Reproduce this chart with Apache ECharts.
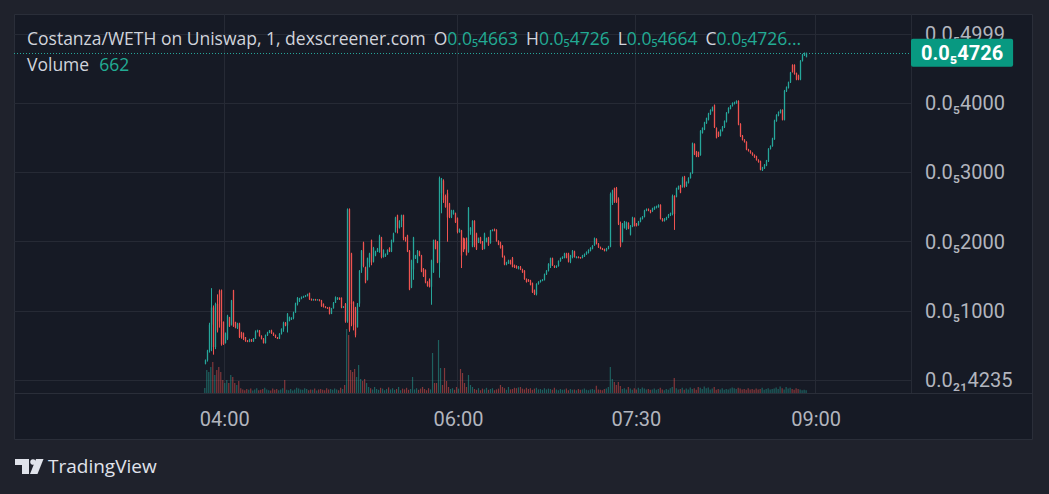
<!DOCTYPE html>
<html><head><meta charset="utf-8">
<script src="https://cdn.jsdelivr.net/npm/echarts@6.0.0/dist/echarts.min.js"></script>
<style>html,body{margin:0;padding:0;background:#1f222c;}#chart{width:1049px;height:494px;}</style>
</head><body><div id="chart"></div>
<script>
// ---- DATA (prices in units of 0.0₅ = 1e-9) ----
const titleText = 'Costanza/WETH on Uniswap, 1, dexscreener.com';
const legendKeys = ['O','H','L','C'];
const legendValues = [4663, 4726, 4664, 4726];
const startTime = '02:15';
const skippedMinutes = ['04:37','05:12','05:48','06:53'];
const categoryCount = 449;
const firstBarTime = '03:50';
const timeTickLabels = ['04:00','06:00','07:30','09:00'];
const priceTicks = [0,1000,2000,3000,4000,5000];
const priceTickLabels = ['0.0₂₁4235','0.0₅1000','0.0₅2000','0.0₅3000','0.0₅4000','0.0₅4999'];
// [open, close, low, high]
const ohlc = [
[240,290,230,300],[290,430,270,440],[430,800,400,830],[800,1050,420,1330],[1050,480,370,1080],[480,1100,450,1120],[1100,720,690,1240],[1290,850,760,1310],[1300,520,500,1310],[840,520,510,850],
[540,680,530,690],[600,930,580,945],[910,780,770,915],[800,1150,790,1160],[1300,780,770,1305],[840,760,750,845],[760,820,740,830],[820,620,610,830],[690,620,600,700],[680,600,580,690],
[620,570,555,625],[570,560,550,580],[560,590,550,600],[590,560,555,595],[560,600,555,610],[600,700,600,720],[700,720,690,730],[720,640,630,725],[640,600,590,650],[600,540,530,610],
[540,650,530,660],[650,690,640,700],[690,720,680,725],[720,680,670,730],[680,650,640,690],[650,620,610,660],[620,600,595,625],[600,670,595,680],[670,740,660,750],[740,830,700,845],
[830,790,780,840],[790,960,690,970],[860,910,850,920],[880,900,870,910],[900,980,880,990],[980,1110,975,1120],[1100,1190,1080,1200],[1150,1180,1130,1190],[1180,1200,1170,1210],[1200,1210,1190,1220],
[1210,1220,1200,1230],[1220,1240,1210,1250],[1260,1170,1160,1265],[1170,1160,1150,1180],[1160,1170,1150,1175],[1170,1160,1150,1175],[1160,1165,1155,1170],[1165,1150,1140,1170],[1150,1070,1060,1160],[1100,1060,1050,1110],
[1060,1050,1040,1070],[1050,1040,1030,1055],[1050,960,950,1060],[960,1040,955,1045],[1040,1120,1035,1130],[1120,1200,1115,1210],[1170,1190,1160,1200],[1190,1170,1160,1195],[1190,1050,1040,1195],[1050,1060,1045,1070],
[1100,850,830,1115],[850,2470,830,2480],[2470,730,700,2480],
[1830,1100,780,1840],[1130,800,720,1140],[1050,650,620,1060],[770,1110,760,1115],[1110,1580,1060,1590],[1580,1870,1550,1880],[1990,1650,1630,2000],[1630,1410,1400,1640],[1450,1760,1440,1770],[1700,1830,1630,1840],
[2020,1700,1660,2030],[1710,1910,1700,1925],[1800,1860,1790,1870],[1860,1900,1850,1910],[1850,2080,1840,2100],[2060,1780,1760,2070],[1780,1880,1770,1890],[1790,1820,1780,1830],[1820,1880,1810,1890],[1910,1860,1850,1920],
[1860,2020,1850,2030],[2000,2120,1990,2130],[2140,2350,2130,2360],[2380,2200,2120,2390],[2200,2300,2190,2310],[2300,2380,2210,2390],[2380,2050,2020,2390],[2060,2020,2000,2070],[2090,1860,1850,2100],[1870,1310,1300,1880],
[1340,1730,1330,1740],[1600,2060,1450,2070],[1760,1800,1750,1810],[1700,1870,1690,1880],[1860,1800,1790,1870],[1800,1570,1560,1810],[1610,1500,1490,1620],[1590,1410,1400,1600],[1420,1360,1350,1430],[1450,1350,1340,1470],
[1350,1730,1090,1740],[1560,2020,1550,2030],[2020,1900,1890,2030],[2000,1700,1690,2010],[1700,2920,1480,2940],[2700,2910,2410,2920],[2880,2600,2560,2900],[2660,2500,2490,2680],[2700,2350,2000,2750],[2550,2360,2340,2560],
[2350,2450,2340,2460],[2400,2450,2390,2460],[2410,2280,2270,2420],[2340,2140,2120,2350],[2140,2180,2130,2190],[2160,1800,1620,2170],[2050,1860,1850,2060],[2000,1900,1890,2050],[2050,1810,1800,2060],[1850,2490,1840,2500],
[2150,2200,2100,2210],[1930,2300,1920,2310],[2300,1950,1920,2310],[2120,1890,1880,2130],[1990,2050,1980,2060],[2060,1980,1970,2070],[2000,1890,1880,2010],[1900,2120,1890,2130],[2000,2050,1990,2060],[2060,1950,1940,2070],
[1980,2160,1970,2170],[2160,2170,2150,2180],[2180,2160,2150,2190],[2170,2010,2000,2180],[2010,1960,1950,2020],
[1990,1910,1900,2000],[1940,1780,1770,1950],[1780,1670,1660,1800],[1670,1700,1660,1710],[1690,1730,1680,1740],[1730,1680,1670,1740],[1770,1640,1630,1780],[1660,1630,1620,1670],[1650,1620,1610,1660],[1610,1640,1600,1650],
[1640,1600,1590,1650],[1600,1560,1550,1610],[1580,1460,1450,1590],[1460,1420,1410,1470],[1450,1430,1420,1460],[1440,1380,1370,1450],[1400,1270,1260,1410],[1300,1240,1230,1310],[1240,1390,1225,1400],[1390,1420,1380,1430],
[1420,1440,1410,1450],[1440,1450,1430,1460],[1450,1530,1440,1540],[1530,1580,1520,1590],[1580,1680,1570,1690],[1650,1760,1620,1770],[1760,1660,1650,1770],[1650,1630,1620,1660],[1630,1650,1620,1660],[1650,1720,1640,1730],
[1720,1760,1710,1770],[1760,1780,1750,1790],[1770,1830,1760,1840],[1830,1770,1760,1840],[1830,1710,1700,1840],[1710,1800,1690,1810],[1780,1870,1760,1880],[1860,1780,1770,1870],[1770,1780,1760,1790],[1780,1770,1760,1790],
[1775,1765,1755,1780],[1770,1800,1760,1810],[1790,1820,1780,1830],[1820,1850,1810,1860],[1840,1880,1830,1890],[1870,1910,1860,1920],[1900,1940,1890,1950],[1950,2050,1940,2060],[2040,1970,1960,2050],[1970,1920,1910,1980],
[1920,1900,1890,1930],[1900,1890,1880,1910],[1890,1870,1860,1900],[1870,1900,1860,1910],[1900,1930,1890,1940],[1930,2690,1920,2710],[2560,2740,2530,2750],[2770,2580,2560,2780],[2770,2570,2560,2790],[2620,2260,2240,2640],
[2270,1940,1920,2290],[2000,2260,1990,2270],[2200,2290,2190,2300],[2180,2280,2170,2290],[2270,2190,2180,2280],[2100,2230,2090,2240],[2220,2350,2210,2360],[2340,2230,2220,2350],[2260,2230,2220,2270],[2240,2290,2230,2300],
[2290,2340,2280,2350],[2330,2360,2320,2370],[2360,2450,2350,2460],[2450,2470,2440,2480],[2470,2450,2440,2480],[2450,2420,2410,2460],
[2440,2480,2430,2490],[2470,2500,2460,2510],[2490,2510,2480,2520],[2500,2530,2490,2540],[2530,2330,2320,2540],[2330,2300,2290,2340],[2300,2330,2290,2340],[2320,2350,2310,2360],[2350,2390,2340,2400],[2380,2410,2370,2420],
[2400,2660,2380,2680],[2660,2400,2170,2670],[2650,2770,2640,2780],[2760,2800,2750,2810],[2810,2710,2700,2820],[2790,2920,2780,2940],[2940,2800,2780,2950],[2800,2860,2790,2870],[2850,2920,2840,2930],[2920,2990,2910,3000],
[2990,3420,2980,3430],[3410,3260,3250,3420],[3300,3230,3220,3310],[3290,3230,3220,3300],[3250,3600,3240,3610],[3570,3640,3560,3650],[3620,3720,3610,3730],[3710,3780,3700,3790],[3760,3850,3750,3860],[3840,3900,3830,3910],
[3890,3940,3880,3950],[3970,3650,3640,3980],[3640,3500,3490,3650],[3580,3520,3510,3590],[3530,3610,3520,3620],[3600,3660,3590,3670],[3650,3740,3640,3750],[3730,3860,3720,3870],[3860,3930,3850,3940],[3920,3960,3910,3970],
[3960,4000,3950,4010],[3990,4010,3980,4020],[4000,4030,3990,4040],[4030,3690,3680,4040],[3700,3520,3510,3710],[3530,3470,3460,3540],[3470,3440,3430,3480],[3440,3330,3320,3450],[3330,3310,3300,3340],[3310,3280,3270,3320],
[3280,3250,3240,3290],[3250,3220,3210,3260],[3230,3180,3170,3240],[3180,3150,3140,3190],[3160,3040,3030,3170],[3030,3070,3020,3080],[3060,3110,3050,3120],[3100,3170,3090,3180],[3160,3340,3150,3350],[3340,3380,3330,3390],
[3380,3490,3370,3500],[3480,3750,3470,3760],[3740,3830,3730,3840],[3820,3870,3810,3880],[3860,3900,3850,3910],[3900,3760,3750,3910],[3760,4180,3750,4190],[4170,4230,4160,4240],[4220,4300,4210,4310],[4300,4440,4290,4450],
[4550,4450,4440,4560],[4550,4420,4410,4560],[4430,4340,4330,4440],[4400,4340,4330,4410],[4340,4610,4330,4620],[4610,4700,4600,4710],[4690,4720,4680,4730],[4663,4726,4663,4726]
];
const volume = [
1250,5750,5250,6500,7750,4500,5750,6500,5250,3250,2500,3250,2500,4500,4000,2500,2000,3000,
1200,900,700,1000,800,1100,600,900,1200,700,800,1000,1300,900,700,600,1100,800,1000,700,900,1200,
3250,
800,700,1000,600,900,1300,1100,900,800,1200,1000,700,900,800,1100,600,900,1000,800,700,1200,900,1000,800,1100,900,700,1300,1000,
2000,16000,14500,
5750,5250,6000,4000,7000,3500,3000,3500,2500,1500,
1200,900,1500,1000,800,1300,1100,700,1000,1400,
900,1200,800,1000,1500,700,1100,900,1300,800,1000,
4000,
900,1200,800,1100,1500,1000,700,1200,900,
10000,2500,2500,13250,6250,2000,6250,3000,1500,
1000,1200,800,1500,1100,
6000,5000,2500,1500,4500,2000,1500,
1000,800,1200,700,1100,900,1300,800,1000,1200,700,900,1100,
2000,1500,1200,800,1500,900,1000,1300,1200,1400,1500,1100,900,1300,1000,1200,800,1100,1300,900,1000,800,1200,900,1100,1000,800,1300,900,700,1000,800,900,1100,700,1000,800,900,700,1000,800,900,1100,800,700,900,1000,800,1800,900,800,700,1000,1100,
1500,6500,3500,2750,2000,2750,1750,1000,1200,900,1500,1100,800,1200,900,1300,1000,1400,1100,900,1000,800,
900,1100,800,1000,1300,900,700,1000,800,1200,1500,
3750,
1200,900,1000,1300,800,1100,900,1400,1000,1200,
800,1500,1300,1000,1600,1200,1400,900,1100,1500,
800,1000,900,1200,800,1000,900,1100,1400,1200,
1000,1300,1100,900,1000,800,1200,900,1000,800,
1100,900,1000,1300,800,1000,1200,900,1000,1100,
1400,1000,1600,1200,900,1500,1100,1300,1000,800,
1200,1000,900,700,800,662
];

// ---- BUILD ----
function toMin(s){const p=s.split(':');return +p[0]*60+ +p[1];}
function fmtTime(m){const h=Math.floor(m/60),mm=m%60;return String(h).padStart(2,'0')+':'+String(mm).padStart(2,'0');}
const times=[];
for(let t=toMin(startTime);times.length<categoryCount;t++){const s=fmtTime(t);if(!skippedMinutes.includes(s))times.push(s);}
const firstIndex=times.indexOf(firstBarTime);
const UP='#26a69a',DOWN='#ef5350';
const isUp=i=>ohlc[i][1]>=ohlc[i][0];
const candleData=ohlc.map((r,i)=>[times[firstIndex+i],r[0],r[1],r[2],r[3]]);
const volData=volume.map((v,i)=>({value:[times[firstIndex+i],v],itemStyle:{color:isUp(i)?'rgba(38,166,154,0.5)':'rgba(239,83,80,0.5)'}}));
const lastClose=ohlc[ohlc.length-1][1];
const fmtPrice=v=>'0.0₅'+Math.round(v);
const isTimeTick=(idx,val)=>timeTickLabels.includes(val);

function renderCandle(params, api){
  const x=api.value(0), o=api.value(1), c=api.value(2), l=api.value(3), h=api.value(4);
  const po=api.coord([x,o]), pc=api.coord([x,c]), pl=api.coord([x,l]), ph=api.coord([x,h]);
  const band=api.size([1,0])[0];
  const bw=Math.max(1, band*0.65);
  const color=c>=o?UP:DOWN;
  const cx=Math.round(po[0])+0.5;
  const top=Math.min(po[1],pc[1]), bot=Math.max(po[1],pc[1]);
  return {type:'group',children:[
    {type:'line',shape:{x1:cx,y1:ph[1],x2:cx,y2:pl[1]},style:{stroke:color,lineWidth:1,opacity:1}},
    {type:'rect',shape:{x:cx-bw/2,y:top,width:bw,height:Math.max(bot-top,1)},style:{fill:color,stroke:null,opacity:1}}
  ]};
}

const GRID_L=14, GRID_R=138;
const FS=17.5;
const chart=echarts.init(document.getElementById('chart'), null, {renderer:'svg'});
const legendText = '{t|'+titleText+'}' + legendKeys.map((k,i)=>'{k|'+k+'}{v|'+fmtPrice(legendValues[i])+'}').join('') + '{v|...}';
chart.setOption({
  animation:false,
  backgroundColor:'#1f222c',
  graphic:[
    {type:'rect',z:-100,shape:{x:14.5,y:14.5,width:1018,height:425},style:{fill:'#161a25',stroke:'#2a2e39',lineWidth:1}},
    {type:'line',z:-50,shape:{x1:14,y1:393.5,x2:1033,y2:393.5},style:{stroke:'#2a2e39',lineWidth:1}},
    {type:'text',z:100,left:27,top:29,style:{text:legendText,rich:{
      t:{fill:'#d1d4dc',fontSize:FS,fontFamily:'Open Sans'},
      k:{fill:'#d1d4dc',fontSize:FS,fontFamily:'Open Sans',padding:[0,0,0,8]},
      v:{fill:'#22ab94',fontSize:FS,fontFamily:'Open Sans'}}}},
    {type:'text',z:100,left:27,top:55,style:{text:'{k|Volume}{v|'+volume[volume.length-1]+'}',rich:{
      k:{fill:'#d1d4dc',fontSize:FS,fontFamily:'Open Sans'},
      v:{fill:'#22ab94',fontSize:FS,fontFamily:'Open Sans',padding:[0,0,0,10]}}}},
    {type:'group',z:100,children:[
      {type:'rect',shape:{x:15,y:459,width:14,height:6},style:{fill:'#e0e3eb'}},
      {type:'rect',shape:{x:22,y:459,width:7,height:15},style:{fill:'#e0e3eb'}},
      {type:'circle',shape:{cx:33,cy:462,r:2.8},style:{fill:'#e0e3eb'}},
      {type:'polygon',shape:{points:[[36,459],[43.5,459],[37.5,474],[30,474]]},style:{fill:'#e0e3eb'}}
    ]},
    {type:'text',z:100,left:48,top:456,style:{text:'TradingView',fill:'#e0e3eb',fontSize:19,fontFamily:'Open Sans'}}
  ],
  grid:[
    {left:GRID_L,right:GRID_R,top:14,bottom:101},
    {left:GRID_L,right:GRID_R,top:33.8,bottom:113.7},
    {left:GRID_L,right:GRID_R,top:313,bottom:101}
  ],
  xAxis:[
    {type:'category',gridIndex:0,data:times,boundaryGap:true,
     axisLine:{show:false},axisTick:{show:false,interval:isTimeTick,alignWithLabel:true},
     axisLabel:{interval:isTimeTick,color:'#b2b5be',fontSize:20,fontFamily:'Roboto',margin:16},
     splitLine:{show:true,interval:isTimeTick,lineStyle:{color:'#262a35',width:1}}},
    {type:'category',gridIndex:1,data:times,boundaryGap:true,show:false},
    {type:'category',gridIndex:2,data:times,boundaryGap:true,show:false}
  ],
  yAxis:[
    {type:'value',gridIndex:0,min:0,max:1,show:false},
    {type:'value',gridIndex:1,min:0,max:5000,interval:1000,position:'right',
     axisLine:{show:false},axisTick:{show:false},
     axisLabel:{color:'#b2b5be',fontSize:20,fontFamily:'Roboto',margin:14,
       formatter:v=>{const i=priceTicks.indexOf(Math.round(v));return i>=0?priceTickLabels[i]:'';}},
     splitLine:{show:true,lineStyle:{color:'#262a35',width:1}}},
    {type:'value',gridIndex:2,min:0,max:20000,show:false}
  ],
  series:[
    {type:'custom',xAxisIndex:1,yAxisIndex:1,data:candleData,encode:{x:0,y:[1,2,3,4]},
     renderItem:renderCandle,clip:true,silent:true,progressive:0,
     markLine:{silent:true,symbol:['none','none'],
       lineStyle:{color:UP,type:[1,2],width:1},
       label:{show:true,position:'end',distance:0,formatter:fmtPrice(lastClose),
         backgroundColor:'#089981',color:'#ffffff',fontSize:20,fontWeight:'bold',fontFamily:'Roboto',
         padding:[4,10,4,10],borderRadius:2},
       data:[{yAxis:lastClose}]}},
    {type:'bar',xAxisIndex:2,yAxisIndex:2,data:volData,encode:{x:0,y:1},barWidth:1.2,silent:true,progressive:0}
  ]
});
</script></body></html>
